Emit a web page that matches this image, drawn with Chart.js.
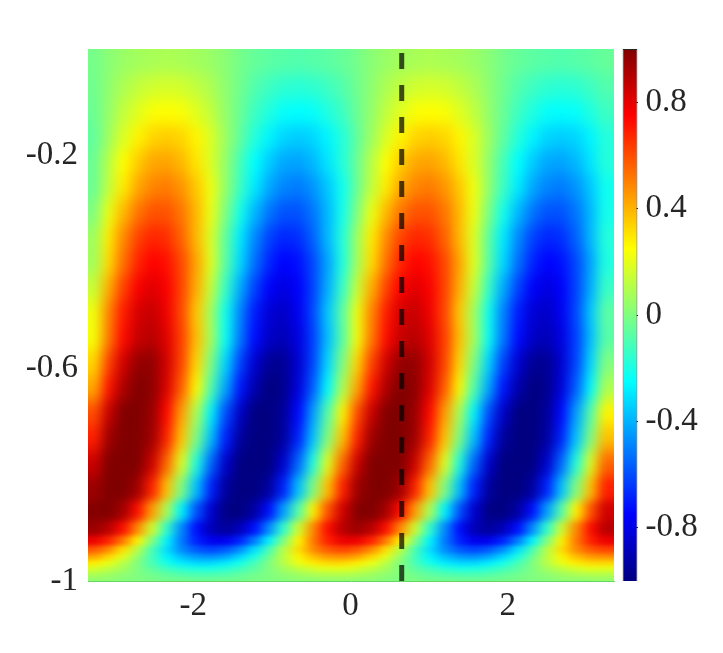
<!DOCTYPE html>
<html>
<head>
<meta charset="utf-8">
<style>
html,body{margin:0;padding:0;background:#fff;overflow:hidden}
canvas{position:absolute;left:0;top:0}
</style>
<script src="https://cdn.jsdelivr.net/npm/chart.js@4/dist/chart.umd.min.js"></script>
</head>
<body>
<svg width="0" height="0" style="position:absolute">
  <filter id="soft1" color-interpolation-filters="sRGB" x="-10%" y="-10%" width="120%" height="120%"><feGaussianBlur stdDeviation="6 8"/></filter>
  <filter id="soft2" color-interpolation-filters="sRGB" x="-10%" y="-10%" width="120%" height="120%"><feGaussianBlur stdDeviation="6 5"/></filter>
  <filter id="soft3" color-interpolation-filters="sRGB" x="-10%" y="-10%" width="120%" height="120%"><feGaussianBlur stdDeviation="6 2.2"/></filter>
</svg>
<canvas id="field" width="723" height="653"></canvas>
<canvas id="bar" width="723" height="653"></canvas>
<script>
const xTicks = [-2, 0, 2];
const yTicks = [-0.2, -0.6, -1];
const barTicks = [0.8, 0.4, 0, -0.4, -0.8];
const markerX = 0.65;
const colCenters = [-3.25,-3.06,-2.88,-2.69,-2.51,-2.32,-2.14,-1.95,-1.76,-1.58,-1.39,-1.21,-1.02,-.84,-.65,-.46,-.28,-.09,.10,.28,.47,.65,.84,1.02,1.21,1.40,1.58,1.77,1.95,2.14,2.33,2.51,2.70,2.88,3.07,3.25];
const rowEdges = [0,-.047,-.094,-.141,-.188,-.235,-.282,-.33,-.377,-.424,-.471,-.518,-.565,-.612,-.659,-.706,-.753,-.8,-.847,-.885,-.913,-.932,-.947,-.959,-.97,-.981,-.992,-1];
const fieldRows = [
[-.02,.02,.05,.07,.08,.09,.08,.07,.05,.02,-.02,-.05,-.07,-.08,-.09,-.08,-.07,-.05,-.02,.02,.05,.07,.08,.09,.08,.07,.05,.02,-.02,-.05,-.07,-.08,-.09,-.08,-.07,-.05],
[-.03,.03,.09,.13,.16,.17,.16,.13,.09,.03,-.03,-.09,-.13,-.16,-.17,-.16,-.13,-.09,-.03,.03,.09,.13,.16,.17,.16,.13,.09,.03,-.03,-.09,-.13,-.16,-.17,-.16,-.13,-.09],
[-.04,.04,.13,.19,.24,.25,.24,.19,.13,.04,-.04,-.13,-.19,-.24,-.25,-.24,-.19,-.13,-.04,.04,.13,.19,.24,.25,.24,.19,.13,.04,-.04,-.13,-.19,-.24,-.25,-.24,-.19,-.13],
[-.06,.06,.18,.27,.33,.35,.33,.27,.18,.06,-.06,-.18,-.27,-.33,-.35,-.33,-.27,-.18,-.06,.06,.18,.27,.33,.35,.33,.27,.18,.06,-.06,-.18,-.27,-.33,-.35,-.33,-.27,-.18],
[-.04,.11,.25,.35,.42,.43,.39,.30,.18,.04,-.11,-.25,-.35,-.42,-.43,-.39,-.30,-.18,-.04,.11,.25,.35,.42,.43,.39,.30,.18,.04,-.11,-.25,-.35,-.42,-.43,-.39,-.30,-.18],
[-.04,.13,.29,.42,.49,.51,.46,.36,.22,.04,-.13,-.29,-.42,-.49,-.51,-.46,-.36,-.22,-.04,.13,.29,.42,.49,.51,.46,.36,.22,.04,-.13,-.29,-.42,-.49,-.51,-.46,-.36,-.22],
[0,.21,.39,.52,.59,.59,.52,.39,.21,0,-.21,-.39,-.52,-.59,-.59,-.52,-.39,-.21,0,.21,.39,.52,.59,.59,.52,.39,.21,0,-.21,-.39,-.52,-.59,-.59,-.52,-.39,-.21],
[.06,.29,.48,.62,.68,.66,.56,.39,.18,-.06,-.29,-.48,-.62,-.68,-.66,-.56,-.39,-.18,.06,.29,.48,.62,.68,.66,.56,.39,.18,-.06,-.29,-.48,-.62,-.68,-.66,-.56,-.39,-.18],
[.07,.32,.53,.68,.75,.72,.61,.43,.19,-.07,-.32,-.53,-.68,-.75,-.72,-.61,-.43,-.19,.07,.32,.53,.68,.75,.72,.61,.43,.19,-.07,-.32,-.53,-.68,-.75,-.72,-.61,-.43,-.19],
[.14,.41,.62,.76,.81,.76,.62,.41,.14,-.14,-.41,-.62,-.76,-.81,-.76,-.62,-.41,-.14,.14,.41,.62,.76,.81,.76,.62,.41,.14,-.14,-.41,-.62,-.76,-.81,-.76,-.62,-.41,-.14],
[.22,.49,.70,.83,.86,.78,.61,.36,.07,-.22,-.49,-.70,-.83,-.86,-.78,-.61,-.36,-.07,.22,.49,.70,.83,.86,.78,.61,.36,.07,-.22,-.49,-.70,-.83,-.86,-.78,-.61,-.36,-.07],
[.23,.51,.73,.86,.89,.81,.63,.38,.08,-.23,-.51,-.73,-.86,-.89,-.81,-.63,-.38,-.08,.23,.51,.73,.86,.89,.81,.63,.38,.08,-.23,-.51,-.73,-.86,-.89,-.81,-.63,-.38,-.08],
[.33,.62,.84,.96,.96,.84,.62,.33,0,-.33,-.62,-.84,-.96,-.96,-.84,-.62,-.33,0,.33,.62,.84,.96,.96,.84,.62,.33,0,-.33,-.62,-.84,-.96,-.96,-.84,-.62,-.33,0],
[.42,.71,.91,1.0,.97,.82,.57,.26,-.09,-.42,-.71,-.91,-1.0,-.97,-.82,-.57,-.26,.09,.42,.71,.91,1.0,.97,.82,.57,.26,-.09,-.42,-.71,-.91,-1.0,-.97,-.82,-.57,-.26,.09],
[.60,.86,1.01,1.05,.95,.74,.44,.09,-.27,-.60,-.86,-1.01,-1.05,-.95,-.74,-.44,-.09,.27,.60,.86,1.01,1.05,.95,.74,.44,.09,-.27,-.60,-.86,-1.01,-1.05,-.95,-.74,-.44,-.09,.27],
[.69,.94,1.06,1.06,.94,.69,.37,0,-.37,-.69,-.94,-1.06,-1.06,-.94,-.69,-.37,0,.37,.69,.94,1.06,1.06,.94,.69,.37,0,-.37,-.69,-.94,-1.06,-1.06,-.94,-.69,-.37,0,.37],
[.85,1.03,1.1,1.03,.85,.55,.19,-.19,-.55,-.85,-1.03,-1.1,-1.03,-.85,-.55,-.19,.19,.55,.85,1.03,1.1,1.03,.85,.55,.19,-.19,-.55,-.85,-1.03,-1.1,-1.03,-.85,-.55,-.19,.19,.55],
[.94,1.06,1.06,.94,.69,.37,0,-.37,-.69,-.94,-1.06,-1.06,-.94,-.69,-.37,0,.37,.69,.94,1.06,1.06,.94,.69,.37,0,-.37,-.69,-.94,-1.06,-1.06,-.94,-.69,-.37,0,.37,.69],
[.99,1.03,.93,.73,.44,.09,-.27,-.59,-.84,-.99,-1.03,-.93,-.73,-.44,-.09,.27,.59,.84,.99,1.03,.93,.73,.44,.09,-.27,-.59,-.84,-.99,-1.03,-.93,-.73,-.44,-.09,.27,.59,.84],
[.95,.89,.73,.48,.16,-.16,-.48,-.73,-.89,-.95,-.89,-.73,-.48,-.16,.16,.48,.73,.89,.95,.89,.73,.48,.16,-.16,-.48,-.73,-.89,-.95,-.89,-.73,-.48,-.16,.16,.48,.73,.89],
[.79,.69,.51,.27,0,-.27,-.51,-.69,-.79,-.79,-.69,-.51,-.27,0,.27,.51,.69,.79,.79,.69,.51,.27,0,-.27,-.51,-.69,-.79,-.79,-.69,-.51,-.27,0,.27,.51,.69,.79],
[.58,.48,.31,.11,-.11,-.31,-.48,-.58,-.62,-.58,-.48,-.31,-.11,.11,.31,.48,.58,.62,.58,.48,.31,.11,-.11,-.31,-.48,-.58,-.62,-.58,-.48,-.31,-.11,.11,.31,.48,.58,.62],
[.43,.33,.20,.04,-.12,-.27,-.38,-.45,-.47,-.43,-.33,-.20,-.04,.12,.27,.38,.45,.47,.43,.33,.20,.04,-.12,-.27,-.38,-.45,-.47,-.43,-.33,-.20,-.04,.12,.27,.38,.45,.47],
[.29,.21,.11,0,-.11,-.21,-.29,-.33,-.33,-.29,-.21,-.11,0,.11,.21,.29,.33,.33,.29,.21,.11,0,-.11,-.21,-.29,-.33,-.33,-.29,-.21,-.11,0,.11,.21,.29,.33,.33],
[.17,.13,.07,0,-.07,-.13,-.17,-.20,-.20,-.17,-.13,-.07,0,.07,.13,.17,.20,.20,.17,.13,.07,0,-.07,-.13,-.17,-.20,-.20,-.17,-.13,-.07,0,.07,.13,.17,.20,.20],
[.09,.06,.03,0,-.03,-.06,-.09,-.10,-.10,-.09,-.06,-.03,0,.03,.06,.09,.10,.10,.09,.06,.03,0,-.03,-.06,-.09,-.10,-.10,-.09,-.06,-.03,0,.03,.06,.09,.10,.10],
[.03,.03,.01,0,-.01,-.03,-.03,-.04,-.04,-.03,-.03,-.01,0,.01,.03,.03,.04,.04,.03,.03,.01,0,-.01,-.03,-.03,-.04,-.04,-.03,-.03,-.01,0,.01,.03,.03,.04,.04]
];

const clamp = v => Math.max(0, Math.min(1, v));
function jet(v) {
  const t = (Math.max(-1, Math.min(1, v)) + 1) / 2;
  const r = clamp(1.5 - Math.abs(4 * t - 3));
  const g = clamp(1.5 - Math.abs(4 * t - 2));
  const b = clamp(1.5 - Math.abs(4 * t - 1));
  return `rgb(${Math.round(r*255)},${Math.round(g*255)},${Math.round(b*255)})`;
}
const FONT = {family: '"Liberation Serif", serif', size: 33};
const INK = '#262626';

/* Soft-shade the library-drawn cells, the way an interpolated colormap looks */
const shade = {
  id: 'shade',
  beforeDatasetDraw(chart, args) {
    if (args.meta.type !== 'line') return;
    const {left, top, right, bottom} = chart.chartArea;
    const w = right - left, h = bottom - top, m = 40;
    const off = document.createElement('canvas');
    off.width = w + 2 * m; off.height = h + 2 * m;
    const o = off.getContext('2d');
    o.drawImage(chart.canvas, left, top, w, h, m, m, w, h);
    o.drawImage(off, m, 0, 1, off.height, 0, 0, m, off.height);
    o.drawImage(off, m + w - 1, 0, 1, off.height, m + w, 0, m, off.height);
    o.drawImage(off, 0, m, off.width, 1, 0, 0, off.width, m);
    o.drawImage(off, 0, m + h - 1, off.width, 1, 0, m + h, off.width, m);
    const layers = [['soft1', null, null], ['soft2', 465, 505], ['soft3', 515, 545]];
    const ctx = chart.ctx;
    ctx.save();
    ctx.beginPath();
    ctx.rect(left, top, w, h);
    ctx.clip();
    for (const [id, y0, y1] of layers) {
      const t = document.createElement('canvas');
      t.width = chart.width; t.height = chart.height;
      const c = t.getContext('2d');
      c.filter = `url(#${id})`;
      c.drawImage(off, left - m, top - m);
      c.filter = 'none';
      if (y0 !== null) {
        const g = c.createLinearGradient(0, y0, 0, y1);
        g.addColorStop(0, 'rgba(0,0,0,0)');
        g.addColorStop(1, 'rgba(0,0,0,1)');
        c.globalCompositeOperation = 'destination-in';
        c.fillStyle = g;
        c.fillRect(0, 0, t.width, t.height);
      }
      ctx.drawImage(t, 0, 0);
    }
    ctx.restore();
  }
};

const cellSets = fieldRows.map((row, r) => ({
  type: 'bar',
  order: 1,
  grouped: false,
  barThickness: 16,
  borderWidth: 0,
  inflateAmount: 0.6,
  backgroundColor: row.map(jet),
  data: row.map((v, c) => ({x: colCenters[c], y: [rowEdges[r + 1], rowEdges[r]]}))
}));

new Chart(document.getElementById('field'), {
  type: 'bar',
  data: {
    datasets: [{
      type: 'line',
      order: 0,
      data: [{x: markerX, y: 0}, {x: markerX, y: -1}],
      borderColor: 'rgba(0,0,0,0.7)',
      borderWidth: 5,
      borderDash: [16, 16],
      borderDashOffset: 28,
      pointRadius: 0,
      fill: false
    }, ...cellSets]
  },
  options: {
    responsive: false,
    animation: false,
    devicePixelRatio: 1,
    layout: {padding: {left: 0, top: 49, right: 109, bottom: 0}},
    plugins: {legend: {display: false}, tooltip: {enabled: false}},
    scales: {
      x: {
        type: 'linear', offset: false, min: -3.34, max: 3.35,
        grid: {display: false, drawTicks: false},
        border: {display: true, color: '#66d466', width: 1, z: 1},
        afterBuildTicks: s => { s.ticks = xTicks.map(value => ({value})); },
        afterFit: s => { s.height = 72; },
        ticks: {color: INK, font: FONT, padding: 6, maxRotation: 0, autoSkip: false, callback: v => String(v)}
      },
      y: {
        type: 'linear', min: -1, max: 0,
        grid: {display: false, drawTicks: false},
        border: {display: false},
        afterBuildTicks: s => { s.ticks = yTicks.map(value => ({value})); },
        afterFit: s => { s.width = 88; },
        ticks: {color: INK, font: FONT, padding: 10, autoSkip: false, callback: v => String(v)}
      }
    }
  },
  plugins: [shade]
});

const barRange = [-1, 1];
new Chart(document.getElementById('bar'), {
  type: 'bar',
  data: {
    labels: [''],
    datasets: [{
      data: [barRange],
      barPercentage: 1,
      categoryPercentage: 1,
      borderWidth: 1,
      borderColor: INK,
      inflateAmount: 0,
      backgroundColor(c) {
        const a = c.chart.chartArea;
        if (!a) return '#000';
        const g = c.chart.ctx.createLinearGradient(0, a.bottom, 0, a.top);
        [[0,-1],[.125,-.75],[.375,-.25],[.625,.25],[.875,.75],[1,1]].forEach(([p, v]) => g.addColorStop(p, jet(v)));
        return g;
      }
    }]
  },
  options: {
    responsive: false,
    animation: false,
    devicePixelRatio: 1,
    layout: {padding: {left: 622.5, top: 49, right: 0, bottom: 72}},
    plugins: {legend: {display: false}, tooltip: {enabled: false}},
    scales: {
      x: {display: false},
      y: {
        type: 'linear', position: 'right', min: -1, max: 1,
        grid: {display: true, drawOnChartArea: false, drawTicks: true, tickLength: -3, color: INK, lineWidth: 1},
        border: {display: false},
        afterBuildTicks: s => { s.ticks = barTicks.map(value => ({value})); },
        afterFit: s => { s.width = 85.5; },
        ticks: {color: INK, font: FONT, padding: 11, autoSkip: false, callback: v => String(v)}
      }
    }
  }
});
</script>
</body>
</html>
